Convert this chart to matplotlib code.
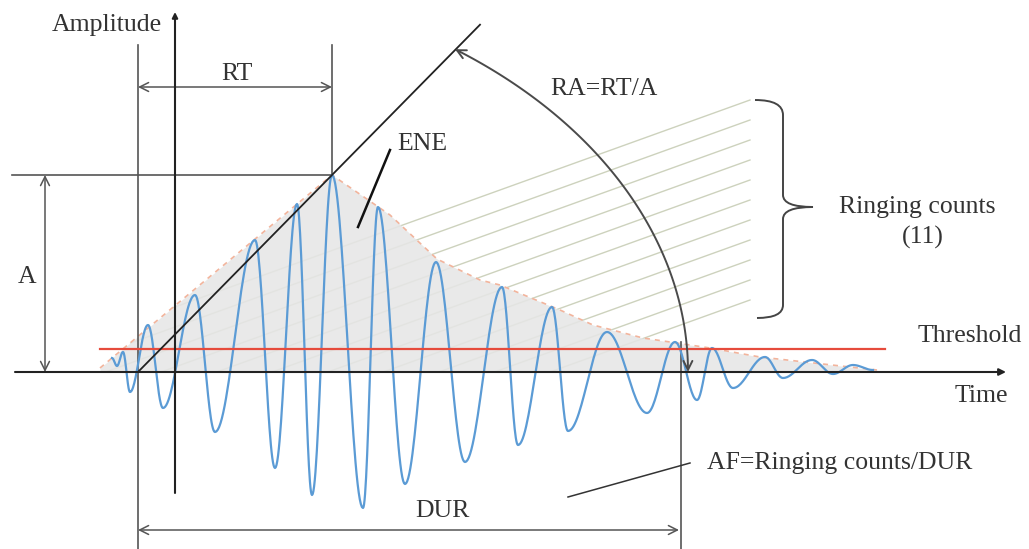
import numpy as np
import matplotlib
matplotlib.use("Agg")
import matplotlib.pyplot as plt
from matplotlib.path import Path
from matplotlib.patches import PathPatch, FancyArrowPatch

# Valores (coordenadas em pixels da imagem, y para baixo)
# extremos da onda (picos e vales)
onda_x = [112, 117, 123, 130, 148, 163, 195, 215, 255, 275, 297, 312, 332, 363, 378, 405,
          436, 465, 502, 518, 552, 568, 607, 647, 675, 697, 712, 733, 765, 783, 812, 833,
          853, 873]
onda_y = [358, 366, 352, 392, 325, 408, 295, 432, 240, 468, 204, 495, 175, 508, 207, 484,
          262, 462, 287, 445, 307, 431, 332, 413, 342, 400, 348, 388, 357, 378, 360, 374,
          365, 370]

# envoltoria (tracejada)
envelope_x = [100, 332, 390, 437, 480, 500, 560, 593, 643, 670, 710, 760, 877]
envelope_y = [368, 175, 215, 259, 280, 285, 310, 325, 338, 342, 348, 357, 370]

# linhas das contagens (11), ponto final à direita
contagens_y = [100, 120, 140, 160, 180, 200, 220, 240, 260, 280, 300]
contagens_xfim = 750
inclinacao_cont = 0.36

base_y = 372        # eixo do tempo
eixo_amp_x = 175    # eixo da amplitude
limiar_y = 349      # threshold
inicio_x = 138      # inicio do sinal
pico = (332, 175)   # amplitude maxima
fim_x = 681         # fim da duracao

cor_texto = "#333333"
fonte = dict(family="Liberation Serif", size=18.5, color=cor_texto)

fig = plt.figure(figsize=(10.29, 5.49), dpi=100)
ax = fig.add_axes([0, 0, 1, 1])
ax.set_xlim(0, 1029)
ax.set_ylim(549, 0)
ax.axis("off")

# linhas das contagens (por baixo da area cinza)
xe = np.array(envelope_x, float)
ye = np.array(envelope_y, float)
for yf in contagens_y:
    xx = np.linspace(90, contagens_xfim, 600)
    yy = yf + inclinacao_cont * (contagens_xfim - xx)
    # corta na reta de subida da envoltoria e na linha de base
    y_sub = envelope_y[0] + (envelope_y[1] - envelope_y[0]) * (xx - envelope_x[0]) / (envelope_x[1] - envelope_x[0])
    ok = (yy >= y_sub) & (yy <= base_y)
    ax.plot(xx[ok], yy[ok], color="#cdd2bd", lw=1.0, zorder=1)

# area cinza (energia)
xf = np.linspace(envelope_x[0], envelope_x[-1], 800)
yf_env = np.interp(xf, xe, ye)
ax.fill_between(xf, yf_env, base_y, color="#e6e6e6", alpha=0.88, lw=0, zorder=2)
ax.plot(xe, ye, color="#f2b49c", lw=1.2, ls=(0, (3, 3)), zorder=3)

# onda
xs, ys = [], []
for i in range(len(onda_x) - 1):
    u = np.linspace(0, 1, 30)
    xs.append(onda_x[i] + (onda_x[i + 1] - onda_x[i]) * u)
    ys.append(onda_y[i] + (onda_y[i + 1] - onda_y[i]) * (1 - np.cos(np.pi * u)) / 2)
ax.plot(np.concatenate(xs), np.concatenate(ys), color="#5b9bd5", lw=1.6, zorder=5)

# threshold
ax.plot([100, 885], [limiar_y, limiar_y], color="#e64b3c", lw=1.6, zorder=6)

# eixos
ax.annotate("", xy=(1006, base_y), xytext=(15, base_y),
            arrowprops=dict(arrowstyle="-|>", color="#222222", lw=1.5, mutation_scale=10,
                            shrinkA=0, shrinkB=0), zorder=7)
ax.annotate("", xy=(eixo_amp_x, 12), xytext=(eixo_amp_x, 493),
            arrowprops=dict(arrowstyle="-|>", color="#222222", lw=1.5, mutation_scale=8,
                            shrinkA=0, shrinkB=0), zorder=7)

cinza = "#555555"
ax.plot([inicio_x, inicio_x], [45, 549], color=cinza, lw=1.2, zorder=4)
ax.plot([pico[0], pico[0]], [45, pico[1]], color=cinza, lw=1.2, zorder=4)
ax.plot([12, pico[0]], [pico[1], pico[1]], color=cinza, lw=1.2, zorder=4)
ax.plot([fim_x, fim_x], [342, 549], color=cinza, lw=1.2, zorder=4)

# reta de subida
m = (pico[1] - base_y) / (pico[0] - inicio_x)
ax.plot([inicio_x, 480], [base_y, base_y + m * (480 - inicio_x)], color="#222222", lw=1.3, zorder=6)

seta = dict(arrowstyle="<->", color=cinza, lw=1.1, mutation_scale=16, shrinkA=0, shrinkB=0)
ax.annotate("", xy=(pico[0], 87), xytext=(inicio_x, 87), arrowprops=seta)
ax.annotate("", xy=(45, pico[1]), xytext=(45, base_y), arrowprops=seta)
ax.annotate("", xy=(fim_x - 2, 530), xytext=(inicio_x, 530), arrowprops=seta)

# arco RA
a, b = fim_x + 7 - inicio_x, 395
t0 = np.arccos((455 - inicio_x) / a)
t = np.linspace(t0, 0, 120)
arco = Path(np.column_stack([inicio_x + a * np.cos(t), base_y - b * np.sin(t)]))
ax.add_patch(FancyArrowPatch(path=arco, arrowstyle="<->", color="#4a4a4a", lw=1.4,
                             mutation_scale=16, zorder=7))

# chave
verts = [(755, 100), (783, 100), (783, 115), (783, 195), (783, 207), (813, 207),
         (783, 207), (783, 219), (783, 305), (783, 318), (757, 318)]
codes = [Path.MOVETO, Path.CURVE3, Path.CURVE3, Path.LINETO, Path.CURVE3, Path.CURVE3,
         Path.CURVE3, Path.CURVE3, Path.LINETO, Path.CURVE3, Path.CURVE3]
ax.add_patch(PathPatch(Path(verts, codes), fill=False, color="#444444", lw=1.4, zorder=7))

# linhas de chamada
ax.plot([390, 358], [150, 227], color="#111111", lw=1.8, zorder=7)
ax.plot([690, 568], [463, 497], color="#333333", lw=1.1, zorder=7)

# textos
ax.text(162, 31, "Amplitude", ha="right", va="baseline", **fonte)
ax.text(237, 80, "RT", ha="center", va="baseline", **fonte)
ax.text(397, 150, "ENE", ha="left", va="baseline", **fonte)
ax.text(550, 95, "RA=RT/A", ha="left", va="baseline", **fonte)
ax.text(917, 213, "Ringing counts", ha="center", va="baseline", **fonte)
ax.text(923, 244, "(11)", ha="center", va="baseline", **fonte)
ax.text(1022, 342, "Threshold", ha="right", va="baseline", **fonte)
ax.text(1008, 402, "Time", ha="right", va="baseline", **fonte)
ax.text(707, 469, "AF=Ringing counts/DUR", ha="left", va="baseline", **fonte)
ax.text(442, 517, "DUR", ha="center", va="baseline", **fonte)
ax.text(27, 283, "A", ha="center", va="baseline", **fonte)

fig.savefig("out.png", dpi=100)
